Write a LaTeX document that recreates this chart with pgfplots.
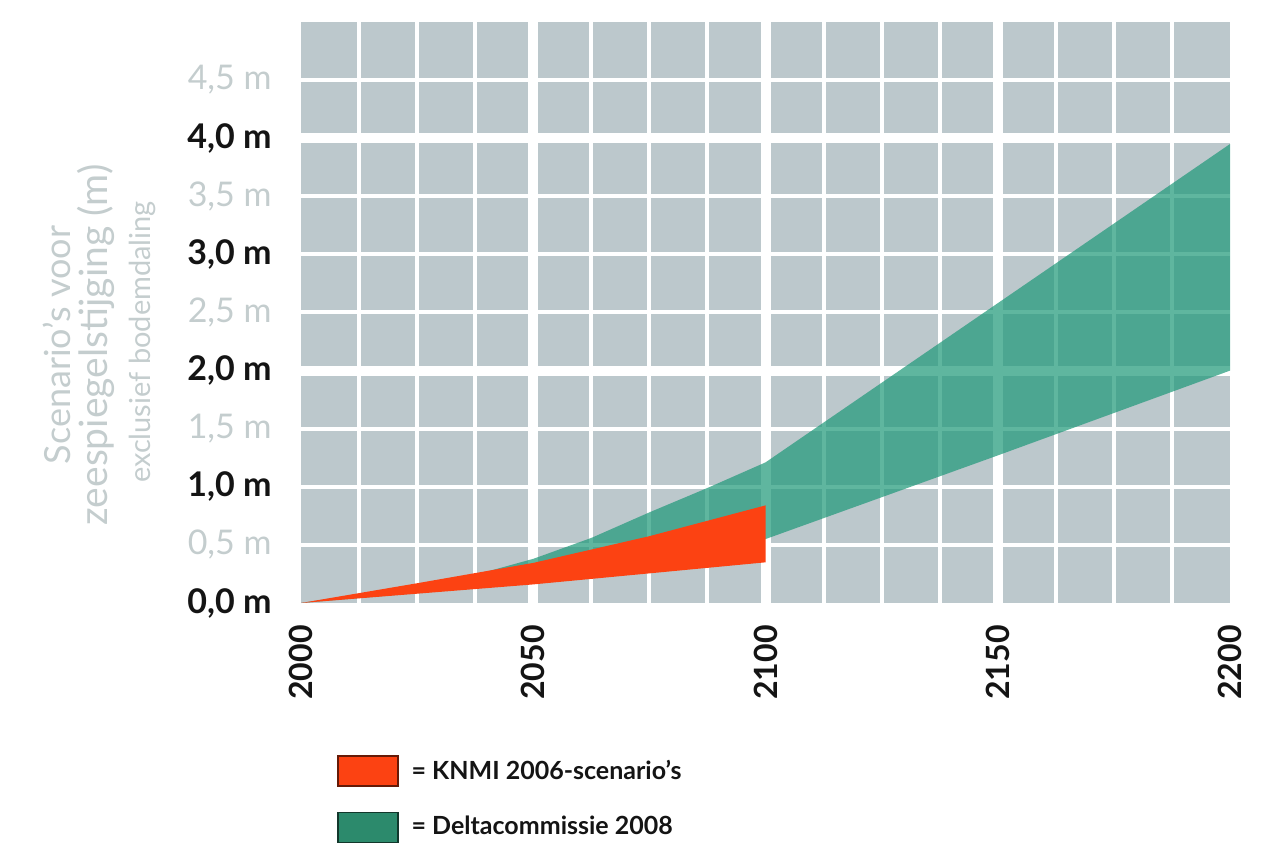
\documentclass[border=0pt]{standalone}
\usepackage{pgfplots}
\pgfplotsset{compat=1.18}
\usepackage{fontspec}
\setmainfont{Lato}
\definecolor{gridgrey}{RGB}{188,200,204}
\definecolor{knmired}{RGB}{252,66,18}
\definecolor{deltagreen}{RGB}{34,154,123}
\definecolor{deltaleg}{RGB}{44,138,108}
\definecolor{lbl}{RGB}{196,205,206}
\definecolor{titlegrey}{RGB}{196,205,206}
\definecolor{dark}{RGB}{20,20,20}

\begin{document}
\begin{tikzpicture}
\useasboundingbox (-150.5bp,-132bp) rectangle (489.5bp,301.5bp);
\begin{axis}[
  at={(0,0)}, anchor=south west,
  scale only axis, width=464.5bp, height=290.5bp,
  xmin=2000, xmax=2200, ymin=0, ymax=5,
  axis background/.style={fill=gridgrey},
  axis line style={draw=none},
  major tick length=0pt, minor tick length=0pt,
  tick style={draw=none},
  xtick={2000,2050,2100,2150,2200},
  xticklabels={2000,2050,2100,2150,2200},
  xticklabel style={rotate=90, anchor=east, inner sep=0pt, text=dark,
    font=\fontsize{16bp}{16bp}\selectfont\bfseries},
  xticklabel shift=11bp,
  minor xtick={2012.5,2025,2037.5,2062.5,2075,2087.5,2112.5,2125,2137.5,2162.5,2175,2187.5},
  ytick={0,0.5,1,1.5,2,2.5,3,3.5,4,4.5},
  yticklabels={{{\bfseries\color{dark}0,0 m}},{{\color{lbl}0,5 m}},{{\bfseries\color{dark}1,0 m}},{{\color{lbl}1,5 m}},{{\bfseries\color{dark}2,0 m}},{{\color{lbl}2,5 m}},{{\bfseries\color{dark}3,0 m}},{{\color{lbl}3,5 m}},{{\bfseries\color{dark}4,0 m}},{{\color{lbl}4,5 m}}},
  yticklabel style={anchor=east, inner sep=0pt, font=\fontsize{17bp}{17bp}\selectfont},
  yticklabel shift=14.5bp,
  minor ytick={0.5,1,1.5,2.5,3,3.5,4.5},
  xminorgrids=true, yminorgrids=true,
  minor grid style={white, line width=2bp},
  extra x ticks={2050,2100,2150},
  extra x tick labels={},
  extra x tick style={grid=major, major grid style={white, line width=5bp}},
  extra y ticks={2,4},
  extra y tick labels={},
  extra y tick style={grid=major, major grid style={white, line width=5bp}},
  legend cell align=left,
  legend style={at={(axis description cs:0.0388,-0.2616)}, anchor=north west,
    draw=none, fill=none, inner sep=0pt, row sep=12.5bp, column sep=6.5bp,
    nodes={inner sep=0pt, text=dark},
    font=\fontsize{12.5bp}{14bp}\selectfont\bfseries},
]
\addlegendimage{legend image code/.code={\draw[fill=knmired, draw=black!60!knmired, line width=0.6bp] (0bp,-7.5bp) rectangle (30bp,7.5bp);}}
\addlegendentry{= KNMI 2006-scenario’s}
\addlegendimage{legend image code/.code={\draw[fill=deltaleg, draw=black!60!deltaleg, line width=0.6bp] (0bp,-7.5bp) rectangle (30bp,7.5bp);}}
\addlegendentry{= Deltacommissie 2008}

\addplot[forget plot, draw=none, fill=deltagreen, fill opacity=0.72] coordinates {
 (2000,0) (2025,0.15) (2040,0.27) (2050,0.38) (2062.5,0.56) (2075,0.78) (2087.5,0.99) (2100,1.21)
 (2150,2.58) (2200,3.95) (2200,2.0) (2150,1.27) (2100,0.55) (2050,0.17) (2000,0)};
\addplot[forget plot, draw=none, fill=knmired] coordinates {
 (2000,0) (2025,0.17) (2050,0.345) (2075,0.575) (2100,0.84) (2100,0.35) (2050,0.16) (2000,0)};
\end{axis}
\node[rotate=90, text=titlegrey, font=\fontsize{18bp}{18bp}\selectfont] at (-122bp,129bp) {Scenario’s voor};
\node[rotate=90, text=titlegrey, font=\fontsize{19.5bp}{19.5bp}\selectfont] at (-102.5bp,129bp) {zeespiegelstijging (m)};
\node[rotate=90, text=titlegrey, font=\fontsize{14.5bp}{14.5bp}\selectfont] at (-79.5bp,130.5bp) {exclusief bodemdaling};
\end{tikzpicture}
\end{document}
